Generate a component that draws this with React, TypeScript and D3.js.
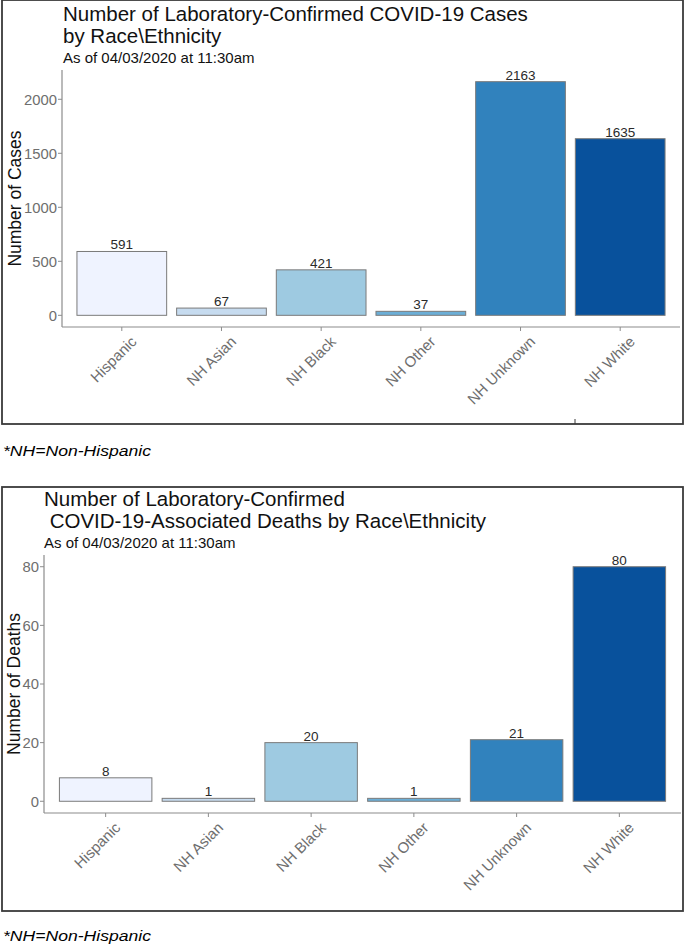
import React from "react";
import * as d3 from "d3";

const categories = ["Hispanic", "NH Asian", "NH Black", "NH Other", "NH Unknown", "NH White"];
const caseValues = [591, 67, 421, 37, 2163, 1635];
const deathValues = [8, 1, 20, 1, 21, 80];
const caseTicks = [0, 500, 1000, 1500, 2000];
const deathTicks = [0, 20, 40, 60, 80];
const barColors = ["#eff3ff", "#c6dbef", "#9ecae1", "#6baed6", "#3182bd", "#08519c"];

const FONT = "'Liberation Sans', Arial, sans-serif";

type PanelProps = {
  values: number[];
  ticks: number[];
  titleLines: string[];
  subtitle: string;
  yTitle: string;
  box: { x0: number; y0: number; x1: number; y1: number };
  plot: { left: number; right: number; top: number; bottom: number };
  titleX: number;
  titleY: number[];
  subtitleY: number;
  yTitleX: number;
};

function Panel(p: PanelProps) {
  const { values, ticks, plot } = p;
  const max = d3.max(values) as number;
  const x = d3
    .scaleBand<string>()
    .domain(categories)
    .range([plot.left, plot.right])
    .paddingInner(0.1)
    .paddingOuter(0.15);
  const y = d3
    .scaleLinear()
    .domain([-0.05 * max, 1.05 * max])
    .range([plot.bottom, plot.top]);
  const axisColor = "#8c8c8c";
  const tickTextColor = "#6e6e6e";
  return (
    <g>
      <rect
        x={p.box.x0}
        y={p.box.y0}
        width={p.box.x1 - p.box.x0}
        height={p.box.y1 - p.box.y0}
        fill="#fff"
        stroke="#3a3a3a"
        strokeWidth={1.8}
      />
      {p.titleLines.map((t, i) => (
        <text
          key={i}
          x={p.titleX}
          y={p.titleY[i]}
          fontFamily={FONT}
          fontSize={20.5}
          fill="#111"
          style={{ whiteSpace: "pre" }}
        >
          {t}
        </text>
      ))}
      <text x={p.titleX} y={p.subtitleY} fontFamily={FONT} fontSize={15} fill="#111">
        {p.subtitle}
      </text>
      {/* y axis */}
      <line x1={plot.left} x2={plot.left} y1={plot.top} y2={plot.bottom} stroke={axisColor} strokeWidth={1.2} />
      {ticks.map((t) => (
        <g key={t}>
          <line x1={plot.left - 4} x2={plot.left} y1={y(t)} y2={y(t)} stroke={axisColor} strokeWidth={1} />
          <text
            x={plot.left - 5}
            y={y(t)}
            dy="0.36em"
            textAnchor="end"
            fontFamily={FONT}
            fontSize={14.8}
            fill={tickTextColor}
          >
            {t}
          </text>
        </g>
      ))}
      <text
        transform={`translate(${p.yTitleX},${(plot.top + plot.bottom) / 2}) rotate(-90)`}
        textAnchor="middle"
        fontFamily={FONT}
        fontSize={17.5}
        fill="#111"
      >
        {p.yTitle}
      </text>
      {/* x axis */}
      <line x1={plot.left} x2={plot.right} y1={plot.bottom} y2={plot.bottom} stroke={axisColor} strokeWidth={1.2} />
      {categories.map((c) => {
        const cx = (x(c) as number) + x.bandwidth() / 2;
        return (
          <g key={c}>
            <line x1={cx} x2={cx} y1={plot.bottom} y2={plot.bottom + 4} stroke={axisColor} strokeWidth={1} />
            <text
              transform={`translate(${cx + 8},${plot.bottom + 8}) rotate(-45)`}
              textAnchor="end"
              dy="0.72em"
              fontFamily={FONT}
              fontSize={15}
              fill={tickTextColor}
            >
              {c}
            </text>
          </g>
        );
      })}
      {/* bars */}
      {values.map((v, i) => {
        const c = categories[i];
        const bx = x(c) as number;
        return (
          <g key={c}>
            <rect
              x={bx}
              y={y(v)}
              width={x.bandwidth()}
              height={y(0) - y(v)}
              fill={barColors[i]}
              stroke="#7a7a7a"
              strokeWidth={1}
            />
            <text
              x={bx + x.bandwidth() / 2}
              y={y(v) - 2}
              textAnchor="middle"
              fontFamily={FONT}
              fontSize={13.5}
              fill="#2a2a2a"
            >
              {v}
            </text>
          </g>
        );
      })}
    </g>
  );
}

export default function App() {
  return (
    <svg
      width={685}
      height={945}
      style={{ position: "absolute", left: 0, top: 0, background: "#fff" }}
    >
      <rect x={0} y={0} width={685} height={945} fill="#fff" />
      <Panel
        values={caseValues}
        ticks={caseTicks}
        titleLines={["Number of Laboratory-Confirmed COVID-19 Cases", "by Race\\Ethnicity"]}
        subtitle="As of 04/03/2020 at 11:30am"
        yTitle="Number of Cases"
        box={{ x0: 2, y0: 0, x1: 683, y1: 424 }}
        plot={{ left: 62, right: 680, top: 70, bottom: 327 }}
        titleX={63}
        titleY={[21, 43]}
        subtitleY={63}
        yTitleX={21}
      />
      <line x1={575} x2={575} y1={419} y2={424} stroke="#3a3a3a" strokeWidth={1} />
      <text
        x={3}
        y={456}
        fontFamily={FONT}
        fontStyle="italic"
        fontSize={15}
        fill="#000"
        textLength={148}
        lengthAdjust="spacingAndGlyphs"
      >
        *NH=Non-Hispanic
      </text>
      <Panel
        values={deathValues}
        ticks={deathTicks}
        titleLines={["Number of Laboratory-Confirmed", " COVID-19-Associated Deaths by Race\\Ethnicity"]}
        subtitle="As of 04/03/2020 at 11:30am"
        yTitle="Number of Deaths"
        box={{ x0: 2, y0: 487, x1: 683, y1: 911 }}
        plot={{ left: 44, right: 681, top: 555, bottom: 813 }}
        titleX={44}
        titleY={[506, 528]}
        subtitleY={548}
        yTitleX={20}
      />
      <text
        x={3}
        y={941}
        fontFamily={FONT}
        fontStyle="italic"
        fontSize={15}
        fill="#000"
        textLength={148}
        lengthAdjust="spacingAndGlyphs"
      >
        *NH=Non-Hispanic
      </text>
    </svg>
  );
}
